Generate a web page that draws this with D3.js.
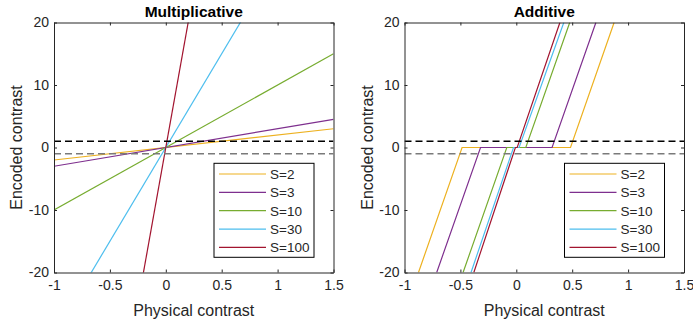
<!DOCTYPE html>
<html>
<head>
<meta charset="utf-8">
<script src="https://cdn.jsdelivr.net/npm/d3@7"></script>
<style>
  body { margin: 0; background: #fff; }
  svg { display: block; font-family: "Liberation Sans", Arial, sans-serif; }
</style>
</head>
<body>
<svg id="chart" width="693" height="326"></svg>
<script>
// values
const sValues = [2, 3, 10, 30, 100];
const legendLabels = ["S=2", "S=3", "S=10", "S=30", "S=100"];
const xTicks = [-1, -0.5, 0, 0.5, 1, 1.5];
const yTicks = [-20, -10, 0, 10, 20];
const thresholdLines = [1, -1];

// multiplicative: straight lines through origin, [x, y] end points
const multLines = [
  [[-1, -2], [1.5, 3]],
  [[-1, -3], [1.5, 4.5]],
  [[-1, -10], [1.5, 15]],
  [[-1, -30], [1.5, 45]],
  [[-1, -100], [1.5, 150]]
];

// additive: dead zone around zero, then steep ramps
const addLines = [
  [[-0.875, -20], [-0.485, 0], [0.485, 0], [0.875, 20]],
  [[-0.712, -20], [-0.32, 0], [0.32, 0], [0.712, 20]],
  [[-0.476, -20], [-0.085, 0], [0.085, 0], [0.478, 20]],
  [[-0.405, -20], [-0.025, 0], [0.025, 0], [0.425, 20]],
  [[-0.38, -20], [-0.008, 0], [0.008, 0], [0.39, 20]]
];

const colors = ["#EDB120", "#7E2F8E", "#77AC30", "#4DBEEE", "#A2142F"];
const axisColor = "#262626";

const svg = d3.select("#chart");

function drawPanel(left, title, lines, id) {
  const W = 279.5, H = 250, top = 22.5;
  const x = d3.scaleLinear().domain([-1, 1.5]).range([0, W]);
  const y = d3.scaleLinear().domain([-20, 20]).range([H, 0]);

  const g = svg.append("g").attr("transform", `translate(${left},${top})`);

  g.append("rect").attr("width", W).attr("height", H).attr("fill", "#fff");

  g.append("clipPath").attr("id", "clip" + id)
    .append("rect").attr("width", W).attr("height", H);

  const plot = g.append("g").attr("clip-path", `url(#clip${id})`);

  const line = d3.line().x(d => x(d[0])).y(d => y(d[1]));

  lines.forEach((pts, i) => {
    plot.append("path")
      .attr("d", line(pts))
      .attr("fill", "none")
      .attr("stroke", colors[i])
      .attr("stroke-width", 1.2);
  });

  // dashed threshold lines
  plot.selectAll(".thr")
    .data(thresholdLines)
    .enter()
    .append("line")
    .attr("x1", 0).attr("x2", W)
    .attr("y1", d => y(d)).attr("y2", d => y(d))
    .attr("stroke", (d, i) => i === 0 ? "#000" : "#7a7a7a")
    .attr("stroke-width", 1.4)
    .attr("stroke-dasharray", "7,4");

  const fmt = d => String(d);

  const styleAxis = sel => {
    sel.select(".domain").attr("stroke", axisColor);
    sel.selectAll(".tick line").attr("stroke", axisColor);
    sel.selectAll("text").attr("fill", axisColor).style("font-size", "14px")
      .style("font-family", "'Liberation Sans', Arial, sans-serif");
  };

  g.append("g").attr("transform", `translate(0,${H})`)
    .call(d3.axisBottom(x).tickValues(xTicks).tickFormat(fmt).tickSize(-3).tickPadding(8).tickSizeOuter(0))
    .call(styleAxis);
  g.append("g")
    .call(d3.axisTop(x).tickValues(xTicks).tickFormat("").tickSize(-3).tickSizeOuter(0))
    .call(styleAxis);
  g.append("g")
    .call(d3.axisLeft(y).tickValues(yTicks).tickFormat(fmt).tickSize(-3).tickPadding(5).tickSizeOuter(0))
    .call(styleAxis);
  g.append("g").attr("transform", `translate(${W},0)`)
    .call(d3.axisRight(y).tickValues(yTicks).tickFormat("").tickSize(-3).tickSizeOuter(0))
    .call(styleAxis);

  // title & labels
  g.append("text")
    .attr("x", W / 2).attr("y", -5.5)
    .attr("text-anchor", "middle")
    .style("font-size", "15.5px").style("font-weight", "bold")
    .attr("fill", "#000")
    .text(title);

  g.append("text")
    .attr("x", W / 2).attr("y", H + 43)
    .attr("text-anchor", "middle")
    .style("font-size", "16px")
    .attr("fill", axisColor)
    .text("Physical contrast");

  g.append("text")
    .attr("transform", `translate(-32,${H / 2}) rotate(-90)`)
    .attr("text-anchor", "middle")
    .style("font-size", "16px")
    .attr("fill", axisColor)
    .text("Encoded contrast");

  // legend
  const lg = g.append("g").attr("transform", `translate(${W - 119.5},${H - 109.2})`);
  lg.append("rect")
    .attr("width", 100).attr("height", 94)
    .attr("fill", "#fff").attr("stroke", "#000").attr("stroke-width", 1);

  const rows = lg.selectAll(".row")
    .data(sValues)
    .enter()
    .append("g")
    .attr("transform", (d, i) => `translate(0,${10.7 + i * 18.35})`);
  rows.append("line")
    .attr("x1", 5).attr("x2", 52)
    .attr("stroke", (d, i) => colors[i]).attr("stroke-width", 1.2);
  rows.append("text")
    .attr("x", 56).attr("dy", "0.36em")
    .style("font-size", "13.5px")
    .attr("fill", axisColor)
    .text((d, i) => legendLabels[i]);
}

drawPanel(54, "Multiplicative", multLines, "m");
drawPanel(404.5, "Additive", addLines, "a");
</script>
</body>
</html>
